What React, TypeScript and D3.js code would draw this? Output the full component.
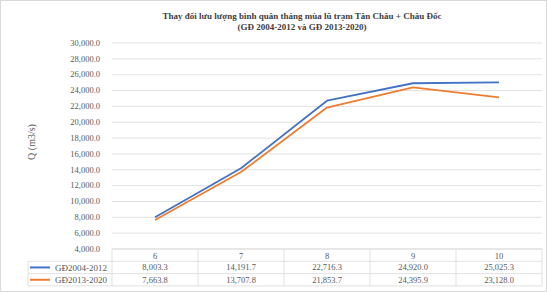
import React from 'react';
import * as d3 from 'd3';

const months = ['6', '7', '8', '9', '10'];
const series1 = [8003.3, 14191.7, 22716.3, 24920.0, 25025.3];
const series2 = [7663.8, 13707.8, 21853.7, 24395.9, 23128.0];
const seriesNames = ['GĐ2004-2012', 'GĐ2013-2020'];
const colors = ['#4472C4', '#ED7D31'];
const yTicks = d3.range(4000, 30001, 2000);

const W = 547;
const H = 292;
const plot = { left: 112, right: 542, top: 43, bottom: 249 };
const legendLeft = 28;
const rowH = 12.3;

export default function App() {
  const x = d3.scaleBand().domain(months).range([plot.left, plot.right]);
  const y = d3.scaleLinear().domain([4000, 30000]).range([plot.bottom, plot.top]);
  const fmt = d3.format(',.1f');
  const line = d3.line<number>()
    .x((d, i) => (x(months[i]) || 0) + x.bandwidth() / 2)
    .y(d => y(d));
  const all = [series1, series2];
  const rowY = (r: number) => plot.bottom + rowH * r;
  const font = '"Liberation Serif", "Times New Roman", serif';
  const fs = 8.5;

  return (
    <svg width={W} height={H} style={{ position: 'absolute', left: 0, top: 0, background: '#fff' }} fontFamily={font}>
      <rect x={0.5} y={0.5} width={W - 1} height={H - 1} fill="#fff" stroke="#d9d9d9" />
      <text x={302} y={19} textAnchor="middle" fontSize={9} fontWeight="bold" fill="#404040">
        Thay đổi lưu lượng bình quân tháng mùa lũ trạm Tân Châu + Châu Đốc
      </text>
      <text x={302} y={30} textAnchor="middle" fontSize={9} fontWeight="bold" fill="#404040">
        (GĐ 2004-2012 và GĐ 2013-2020)
      </text>

      {yTicks.map(t => (
        <g key={t}>
          <line x1={plot.left} x2={plot.right} y1={y(t)} y2={y(t)} stroke="#d9d9d9" strokeWidth={0.8} />
          <text x={100} y={y(t)} dy="0.33em" textAnchor="end" fontSize={fs} fill="#595959">{fmt(t)}</text>
        </g>
      ))}

      <text transform={`translate(35,${(plot.top + plot.bottom) / 2 - 4}) rotate(-90)`} textAnchor="middle" fontSize={10} fill="#595959">
        Q (m3/s)
      </text>

      {[1, 0].map(k => (
        <path key={k} d={line(all[k]) || ''} fill="none" stroke={colors[k]} strokeWidth={1.8} strokeLinejoin="round" />
      ))}

      {/* data table */}
      <g stroke="#d9d9d9" strokeWidth={0.8}>
        <line x1={plot.left} x2={plot.right} y1={rowY(0)} y2={rowY(0)} />
        {[1, 2, 3].map(r => (
          <line key={r} x1={legendLeft} x2={plot.right} y1={rowY(r)} y2={rowY(r)} />
        ))}
        <line x1={legendLeft} x2={legendLeft} y1={rowY(1)} y2={rowY(3)} />
        {months.map(m => (
          <line key={m} x1={x(m)} x2={x(m)} y1={rowY(0)} y2={rowY(3)} />
        ))}
        <line x1={plot.right} x2={plot.right} y1={rowY(0)} y2={rowY(3)} />
      </g>
      {months.map(m => (
        <text key={m} x={(x(m) || 0) + x.bandwidth() / 2} y={rowY(0.6)} dy="0.35em" textAnchor="middle" fontSize={fs} fill="#595959">{m}</text>
      ))}
      {all.map((s, k) => (
        <g key={k}>
          <line x1={legendLeft + 2} x2={legendLeft + 22} y1={rowY(k + 1.5)} y2={rowY(k + 1.5)} stroke={colors[k]} strokeWidth={2} />
          <text x={legendLeft + 27} y={rowY(k + 1.5)} dy="0.35em" fontSize={9} fill="#595959">{seriesNames[k]}</text>
          {s.map((v, i) => (
            <text key={i} x={(x(months[i]) || 0) + x.bandwidth() / 2} y={rowY(k + 1.5)} dy="0.35em" textAnchor="middle" fontSize={fs} fill="#595959">{fmt(v)}</text>
          ))}
        </g>
      ))}
    </svg>
  );
}
